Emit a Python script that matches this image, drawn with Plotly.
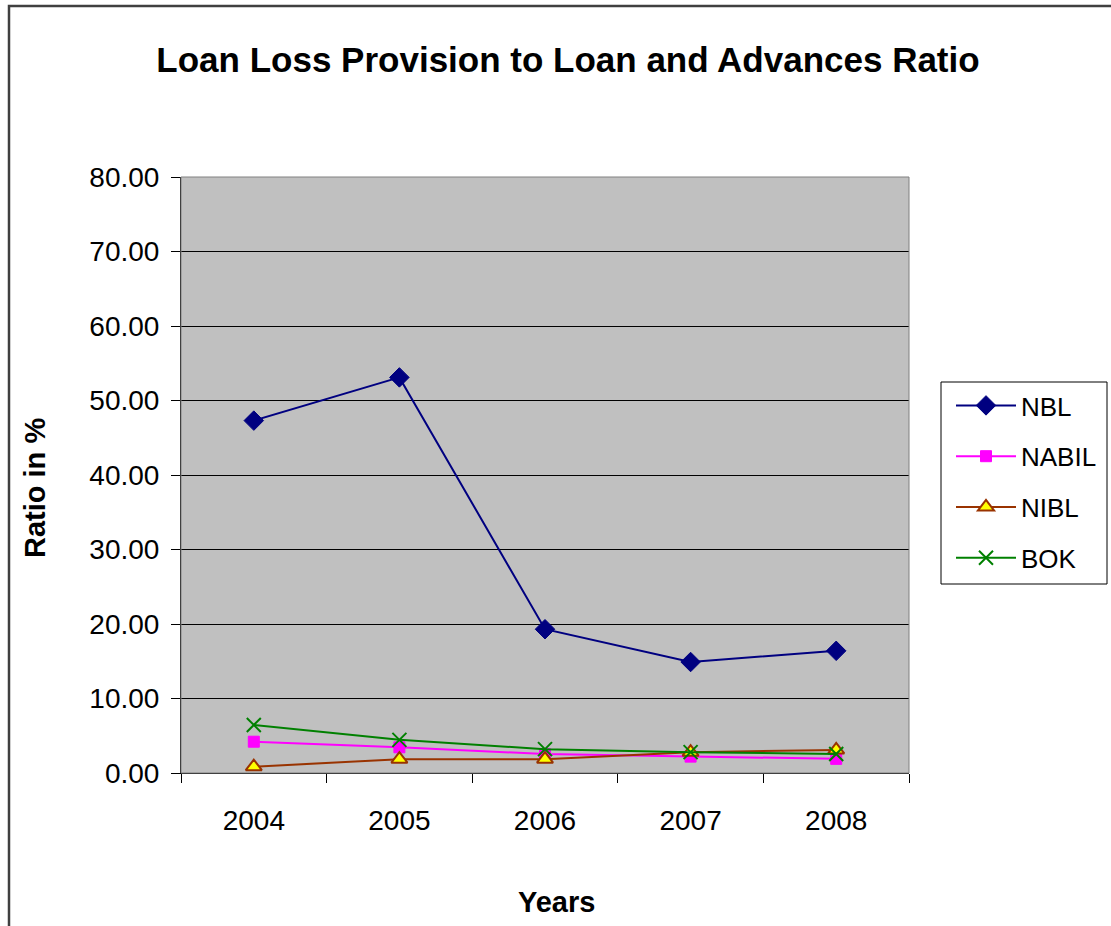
import plotly.graph_objects as go

years = ["2004", "2005", "2006", "2007", "2008"]
nbl = [47.3, 53.1, 19.3, 14.9, 16.4]
nabil = [4.2, 3.45, 2.55, 2.2, 1.9]
nibl = [0.85, 1.85, 1.85, 2.8, 3.1]
bok = [6.45, 4.45, 3.2, 2.8, 2.55]
y_ticks = [0, 10, 20, 30, 40, 50, 60, 70, 80]

W, H = 1111, 926
L, R, T, B = 181, 909, 177, 773
pw, ph = R - L, B - T

def px(x):
    return (x - L) / pw

def py(y):
    return (B - y) / ph

FONT = "Liberation Sans, Arial, sans-serif"

fig = go.Figure()
fig.add_trace(go.Scatter(x=years, y=nbl, name="NBL", mode="lines+markers",
                         line=dict(color="#000080", width=2),
                         marker=dict(symbol="diamond", size=15, color="#000080",
                                     line=dict(color="#000080", width=1)),
                         legendgroup="a"))
fig.add_trace(go.Scatter(x=years, y=nabil, name="NABIL", mode="lines+markers",
                         line=dict(color="#FF00FF", width=2),
                         marker=dict(symbol="square", size=11, color="#FF00FF",
                                     line=dict(color="#FF00FF", width=1)),
                         legendgroup="b"))
fig.add_trace(go.Scatter(x=years, y=nibl, name="NIBL", mode="lines+markers",
                         line=dict(color="#993300", width=2),
                         marker=dict(symbol="triangle-up", size=14, color="#FFFF00",
                                     line=dict(color="#993300", width=2)),
                         legendgroup="c"))
fig.add_trace(go.Scatter(x=years, y=bok, name="BOK", mode="lines+markers",
                         line=dict(color="#008000", width=2),
                         marker=dict(symbol="x-thin-open", size=14, color="#008000",
                                     line=dict(color="#008000", width=2)),
                         legendgroup="d"))

fig.update_layout(
    width=W, height=H,
    margin=dict(l=L, r=W - R, t=T, b=H - B, pad=0, autoexpand=False),
    paper_bgcolor="white",
    plot_bgcolor="#C0C0C0",
    font=dict(family=FONT, size=28, color="black"),
    showlegend=True,
    legend=dict(x=px(951), y=py(382), xanchor="left", yanchor="top",
                borderwidth=0, bgcolor="rgba(0,0,0,0)",
                font=dict(size=26, family=FONT),
                tracegroupgap=14, traceorder="grouped", itemwidth=60),
    title=dict(text="<b>Loan Loss Provision to Loan and Advances Ratio</b>",
               x=(568) / W, xanchor="center", y=1 - 60 / H, yanchor="middle",
               font=dict(size=35, family=FONT, color="black")),
)

fig.update_xaxes(type="category", showgrid=False, showline=True, linecolor="black",
                 linewidth=1, ticks="outside", ticklen=9, tickcolor="black",
                 tickson="boundaries", ticklabelstandoff=22,
                 tickfont=dict(size=28, family=FONT), zeroline=False,
                 range=[-0.5, 4.5])
fig.update_yaxes(range=[0, 80], tickvals=y_ticks, tickformat=".2f",
                 showgrid=True, gridcolor="black", gridwidth=1,
                 showline=True, linecolor="black", linewidth=1,
                 ticks="outside", ticklen=9, tickcolor="black",
                 ticklabelstandoff=6, tickfont=dict(size=28, family=FONT),
                 zeroline=False)

# plot area border (top/right gray)
fig.add_shape(type="rect", xref="paper", yref="paper", x0=0, x1=1, y0=0, y1=1,
              line=dict(color="#808080", width=1), layer="above")
# legend box
fig.add_shape(type="rect", xref="paper", yref="paper",
              x0=px(941), x1=px(1107), y0=py(584), y1=py(382),
              line=dict(color="black", width=1), fillcolor="rgba(0,0,0,0)",
              layer="above")
# outer chart border (extends beyond the page on right and bottom)
fig.add_shape(type="rect", xref="paper", yref="paper",
              x0=px(9), x1=px(1200), y0=py(1000), y1=py(6),
              line=dict(color="#404040", width=2.5), layer="above")

fig.add_annotation(text="<b>Ratio in %</b>", xref="paper", yref="paper",
                   x=px(35), y=py(488), textangle=-90, showarrow=False,
                   font=dict(size=29, family=FONT, color="black"),
                   xanchor="center", yanchor="middle")
fig.add_annotation(text="<b>Years</b>", xref="paper", yref="paper",
                   x=px(556), y=py(902), showarrow=False,
                   font=dict(size=29, family=FONT, color="black"),
                   xanchor="center", yanchor="middle")

fig.write_html("out.html")
